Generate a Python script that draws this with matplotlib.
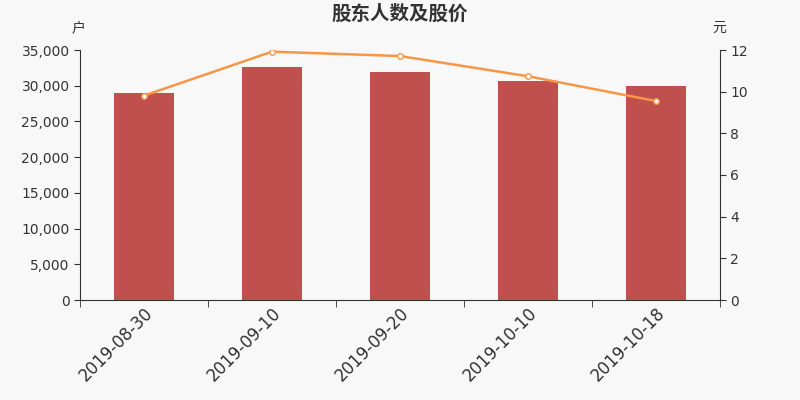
import numpy as np
import matplotlib.pyplot as plt
from matplotlib.ticker import FuncFormatter, FixedLocator

plt.rcParams['font.family'] = ['DejaVu Sans', 'Noto Sans CJK SC']

dates = ['2019-08-30', '2019-09-10', '2019-09-20', '2019-10-10', '2019-10-18']
holders = [28980, 32600, 31950, 30600, 30000]
price = [9.81, 11.92, 11.71, 10.74, 9.55]

bg = '#f8f8f8'
axis_c = '#333333'
cjk = ['Noto Sans CJK SC', 'DejaVu Sans']

fig = plt.figure(figsize=(8, 4), dpi=100, facecolor=bg)
ax = fig.add_axes([0.1, 0.25, 0.8, 0.625], facecolor=bg)
x = np.arange(len(dates))
ax.bar(x, holders, width=0.47, color='#c0504d', zorder=2)
ax.set_xlim(-0.5, len(dates) - 0.5)
ax.set_ylim(0, 35000)
ax.set_yticks(np.arange(0, 35001, 5000))
ax.yaxis.set_major_formatter(FuncFormatter(lambda v, p: f'{int(v):,}'))
ax.set_xticks(x)
ax.set_xticklabels(dates, rotation=45, ha='right', rotation_mode='anchor',
                   fontsize=12, color=axis_c)
ax.tick_params(axis='x', which='major', length=0, pad=3)
ax.xaxis.set_minor_locator(FixedLocator(np.arange(-0.5, len(dates), 1.0)))
ax.tick_params(axis='x', which='minor', length=5, color=axis_c)
ax.tick_params(axis='y', length=4, color=axis_c, labelcolor=axis_c, labelsize=10)
for s in ['top', 'right']:
    ax.spines[s].set_visible(False)
for s in ['left', 'bottom']:
    ax.spines[s].set_color(axis_c)

ax2 = ax.twinx()
ax2.plot(x, price, color='#f79646', lw=1.8, marker='o', ms=4,
         mfc='white', mec='#f79646', mew=1, zorder=3)
ax2.set_ylim(0, 12)
ax2.set_yticks(np.arange(0, 13, 2))
ax2.tick_params(axis='y', length=4, color=axis_c, labelcolor=axis_c, labelsize=10)
for s in ['top', 'left', 'bottom']:
    ax2.spines[s].set_visible(False)
ax2.spines['right'].set_color(axis_c)

fig.text(0.5, 0.965, '股东人数及股价', ha='center', va='center', family=cjk,
         fontsize=14, fontweight='bold', color=axis_c)
fig.text(0.098, 0.93, '户', ha='center', va='center', family=cjk, fontsize=10, color=axis_c)
fig.text(0.899, 0.93, '元', ha='center', va='center', family=cjk, fontsize=10, color=axis_c)

fig.savefig('out.png', dpi=100, facecolor=bg)
